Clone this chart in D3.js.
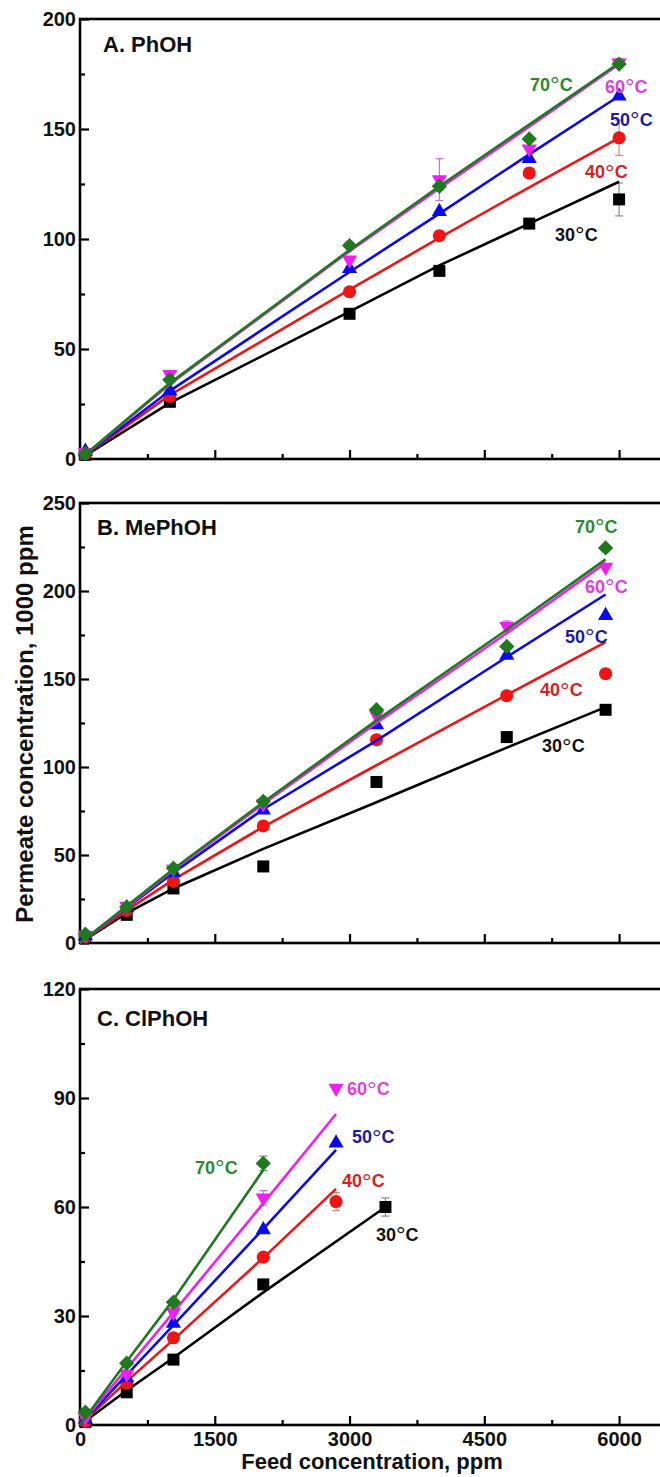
<!DOCTYPE html>
<html>
<head>
<meta charset="utf-8">
<script src="https://cdn.jsdelivr.net/npm/d3@7"></script>
<style>
  html, body { margin: 0; padding: 0; background: #fff; }
  svg { display: block; font-family: "Liberation Sans", Arial, sans-serif; }
</style>
</head>
<body>
<svg id="chart" width="660" height="1477"></svg>
<script>
// ---- data ----------------------------------------------------------------
const panelTitles = ["A. PhOH", "B. MePhOH", "C. ClPhOH"];
const tempLabels = ["30", "40", "50", "60", "70"];           // °C
const xTicks = [0, 1500, 3000, 4500, 6000];
const yTicksA = [0, 50, 100, 150, 200];
const yTicksB = [0, 50, 100, 150, 200, 250];
const yTicksC = [0, 30, 60, 90, 120];

// Feed concentration (ppm) for each temperature series
const feedA = [
  [60, 1000, 3000, 4000, 5000, 6000],
  [60, 1000, 3000, 4000, 5000, 6000],
  [60, 1000, 3000, 4000, 5000, 6000],
  [60, 1000, 3000, 4000, 5000, 6000],
  [60, 1000, 3000, 4000, 5000, 6000]
];
const feedB = [
  [60, 520, 1040, 2040, 3300, 4750, 5850],
  [60, 520, 1040, 2040, 3300, 4750, 5850],
  [60, 520, 1040, 2040, 3300, 4750, 5850],
  [60, 520, 1040, 2040, 3300, 4750, 5850],
  [60, 520, 1040, 2040, 3300, 4750, 5850]
];
const feedC = [
  [60, 520, 1040, 2040, 3400],
  [60, 520, 1040, 2040, 2850],
  [60, 520, 1040, 2040, 2850],
  [60, 520, 1040, 2040, 2850],
  [60, 520, 1040, 2040]
];

// Measured permeate concentration (1000 ppm)
const permA = [
  [2, 26, 66, 85.5, 107, 118],
  [2.5, 28.5, 76, 101.5, 130, 146],
  [3.5, 31, 86.5, 112.5, 136.5, 165],
  [3, 38.5, 90.5, 127, 141, 180],
  [2.5, 36, 97, 124, 145.5, 179.5]
];
const permB = [
  [3, 16, 31, 43.5, 91.5, 117, 132.5],
  [3.5, 18.5, 35, 66.5, 115.5, 140.5, 153],
  [4, 20, 40, 75.5, 124, 163.5, 186],
  [4.5, 21, 42, 79, 129.5, 180, 213.5],
  [5, 20.5, 42.5, 80.5, 132.5, 168.5, 224.5]
];
const permC = [
  [0.8, 9, 18, 38.7, 60],
  [1, 11.5, 24, 46.2, 61.5],
  [1.5, 13, 28, 53.7, 77.6],
  [2, 14, 31, 62.5, 92.7],
  [3.5, 17, 33.8, 72]
];

// Standard deviations (1000 ppm), 0 where no bar is drawn
const errA = [
  [0, 0, 0, 0, 0, 7.5],
  [0, 0, 0, 0, 0, 8],
  [0, 0, 0, 0, 0, 0],
  [0, 1.5, 0, 9.5, 0, 2],
  [0, 0, 0, 0, 0, 0]
];
const errB = [
  [0, 0, 0, 0, 0, 0, 0],
  [0, 0, 0, 0, 0, 0, 0],
  [0, 0, 0, 0, 0, 0, 0],
  [0, 0, 0, 0, 2, 3, 0],
  [0, 0, 0, 0, 0, 0, 0]
];
const errC = [
  [0, 0, 0, 0, 2.5],
  [0, 0, 0, 0, 2.5],
  [0, 0, 0, 0, 0],
  [0, 0, 0, 2, 0],
  [0, 0, 0, 2]
];

// Fitted curves: feed nodes and fitted permeate values
const fitFeedA = [0, 1000, 3000, 4000, 5000, 6000];
const fitA = [
  [0, 25.5, 67, 88, 107, 126],
  [0, 29, 77, 100.5, 123.5, 146],
  [0, 31, 85, 111.5, 138.5, 165],
  [0, 34, 94.5, 123, 151, 179.5],
  [0, 34.5, 95, 124, 152, 180]
];
const fitFeedB = [0, 520, 1040, 2040, 3300, 4750, 5850];
const fitB = [
  [0, 17, 31, 53.5, 80, 111, 134],
  [0, 18.5, 36, 66, 101, 141, 171],
  [0, 20, 40, 76, 115, 162.5, 198],
  [0, 20.5, 41.5, 79, 125, 176, 216],
  [0, 21, 42, 80, 126.5, 178, 218]
];
const fitFeedC = [
  [0, 520, 1040, 2040, 3400],
  [0, 520, 1040, 2040, 2850],
  [0, 520, 1040, 2040, 2850],
  [0, 520, 1040, 2040, 2850],
  [0, 520, 1040, 2040]
];
const fitC = [
  [0, 9.5, 18.5, 36.5, 60],
  [0, 12, 23.5, 46, 65],
  [0, 13.8, 27.5, 54, 75.7],
  [0, 15.5, 31, 61, 85.6],
  [0, 17.5, 34.5, 70.2]
];

// Temperature label anchors in data units [feed, permeate]
const labelPosA = [[5287, 99.1], [5621, 127.7], [5899, 151.4], [5843, 166.4], [5009, 167.3]];
const labelPosB = [[5142, 108.5], [5120, 140.3], [5398, 170.5], [5621, 199], [5509, 233]];
const labelPosC = [[3294, 50.7], [2916, 65.5], [3027, 77.6], [2972, 90.8], [1280, 69.1]];

// ---- styling ---------------------------------------------------------------
const lineColors   = ["#000000", "#f01414", "#0a0af0", "#f01ef0", "#1f7a1f"];
const markerColors = ["#000000", "#f01414", "#0a0af0", "#f01ef0", "#1f7a1f"];
const labelColors  = ["#111111", "#d82222", "#1c1ca0", "#e03ee0", "#2a892a"];
const errColors    = ["#888888", "#d88888", "#8888e0", "#d070d0", "#5a9a5a"];

const svg = d3.select("#chart");
const x = d3.scaleLinear().domain([0, 6500]).range([80, 664]);

const panels = [
  { top: 19,  bottom: 459,  ymax: 200, yTicks: yTicksA, minor: 25, feed: feedA, perm: permA, err: errA,
    fitFeed: [fitFeedA, fitFeedA, fitFeedA, fitFeedA, fitFeedA], fit: fitA, labels: labelPosA, titleX: 103, titleY: 52, xLabels: false },
  { top: 503, bottom: 943,  ymax: 250, yTicks: yTicksB, minor: 25, feed: feedB, perm: permB, err: errB,
    fitFeed: [fitFeedB, fitFeedB, fitFeedB, fitFeedB, fitFeedB], fit: fitB, labels: labelPosB, titleX: 97, titleY: 535, xLabels: false },
  { top: 989, bottom: 1425, ymax: 120, yTicks: yTicksC, minor: 15, feed: feedC, perm: permC, err: errC,
    fitFeed: fitFeedC, fit: fitC, labels: labelPosC, titleX: 97, titleY: 1026, xLabels: true }
];

// Marker shapes per temperature: square, circle, up-triangle, down-triangle, diamond
const markerDefs = [
  { type: d3.symbolSquare,   size: 144, rot: 0 },
  { type: d3.symbolCircle,   size: 135, rot: 0 },
  { type: d3.symbolTriangle, size: 100, rot: 0 },
  { type: d3.symbolTriangle, size: 100, rot: 180 },
  { type: d3.symbolSquare,   size: 118, rot: 45 }
];

panels.forEach((p, pi) => {
  const y = d3.scaleLinear().domain([0, p.ymax]).range([p.bottom, p.top]);
  const g = svg.append("g");

  // minor ticks (inward)
  const minorY = d3.range(0, p.ymax + 0.001, p.minor).filter(v => !p.yTicks.includes(v));
  g.append("g").attr("transform", "translate(80,0)")
    .call(d3.axisLeft(y).tickValues(minorY).tickSize(-5).tickFormat(""))
    .call(s => s.select(".domain").remove())
    .call(s => s.selectAll("line").attr("stroke-width", 2.2));
  const minorX = d3.range(750, 6500, 1500);
  g.append("g").attr("transform", `translate(0,${p.bottom})`)
    .call(d3.axisBottom(x).tickValues(minorX).tickSize(-5).tickFormat(""))
    .call(s => s.select(".domain").remove())
    .call(s => s.selectAll("line").attr("stroke-width", 2.2));

  // major ticks + labels
  g.append("g").attr("transform", "translate(80,0)")
    .call(d3.axisLeft(y).tickValues(p.yTicks).tickSize(-9).tickPadding(4))
    .call(s => s.select(".domain").remove())
    .call(s => s.selectAll("line").attr("stroke-width", 2.2))
    .call(s => s.selectAll("text").attr("font-size", 20).attr("font-weight", "bold")
      .attr("fill", "#111").attr("font-family", "Liberation Sans, Arial, sans-serif"));
  g.append("g").attr("transform", `translate(0,${p.bottom})`)
    .call(d3.axisBottom(x).tickValues(xTicks).tickSize(-9).tickPadding(7)
      .tickFormat(p.xLabels ? d3.format("d") : ""))
    .call(s => s.select(".domain").remove())
    .call(s => s.selectAll("line").attr("stroke-width", 2.2))
    .call(s => s.selectAll("text").attr("font-size", 20).attr("font-weight", "bold")
      .attr("fill", "#111").attr("font-family", "Liberation Sans, Arial, sans-serif"));

  // frame
  g.append("rect")
    .attr("x", x(0)).attr("y", p.top)
    .attr("width", x(6500) - x(0)).attr("height", p.bottom - p.top)
    .attr("fill", "none").attr("stroke", "#000").attr("stroke-width", 2.6);

  // panel title
  g.append("text").attr("x", p.titleX).attr("y", p.titleY)
    .attr("font-size", 22).attr("font-weight", "bold").attr("fill", "#111")
    .text(panelTitles[pi]);

  const line = d3.line().x(d => x(d[0])).y(d => y(d[1]));

  tempLabels.forEach((t, si) => {
    const pts = p.feed[si].map((f, k) => ({ f, v: p.perm[si][k], e: p.err[si][k] }));

    // error bars
    const eg = g.append("g").attr("stroke", errColors[si]).attr("stroke-width", 1.2);
    pts.filter(d => d.e > 0).forEach(d => {
      const cx = x(d.f);
      eg.append("line").attr("x1", cx).attr("x2", cx).attr("y1", y(d.v - d.e)).attr("y2", y(d.v + d.e));
      eg.append("line").attr("x1", cx - 4).attr("x2", cx + 4).attr("y1", y(d.v - d.e)).attr("y2", y(d.v - d.e));
      eg.append("line").attr("x1", cx - 4).attr("x2", cx + 4).attr("y1", y(d.v + d.e)).attr("y2", y(d.v + d.e));
    });

    // fitted curve
    g.append("path")
      .datum(p.fitFeed[si].map((f, k) => [f, p.fit[si][k]]))
      .attr("d", line)
      .attr("fill", "none").attr("stroke", lineColors[si]).attr("stroke-width", 2.6);

    // markers
    const m = markerDefs[si];
    g.append("g").selectAll("path").data(pts).join("path")
      .attr("d", d3.symbol().type(m.type).size(m.size))
      .attr("transform", d => `translate(${x(d.f)},${y(d.v)}) rotate(${m.rot})`)
      .attr("fill", markerColors[si]);
  });

  // temperature labels
  tempLabels.forEach((t, si) => {
    const [lf, lv] = p.labels[si];
    const tx = g.append("text").attr("x", x(lf)).attr("y", y(lv))
      .attr("font-size", 18).attr("font-weight", "bold").attr("fill", labelColors[si]);
    tx.append("tspan").text(t);
    tx.append("tspan").attr("font-weight", "normal").attr("font-size", 24).attr("dy", 2.5).text("°");
    tx.append("tspan").attr("dy", -2.5).text("C");
  });
});

// axis titles
svg.append("text")
  .attr("transform", "translate(33,724) rotate(-90)")
  .attr("text-anchor", "middle")
  .attr("font-size", 24).attr("font-weight", "bold").attr("fill", "#111")
  .text("Permeate concentration, 1000 ppm");

svg.append("text")
  .attr("x", 372).attr("y", 1469)
  .attr("text-anchor", "middle")
  .attr("font-size", 22).attr("font-weight", "bold").attr("fill", "#111")
  .text("Feed concentration, ppm");
</script>
</body>
</html>
